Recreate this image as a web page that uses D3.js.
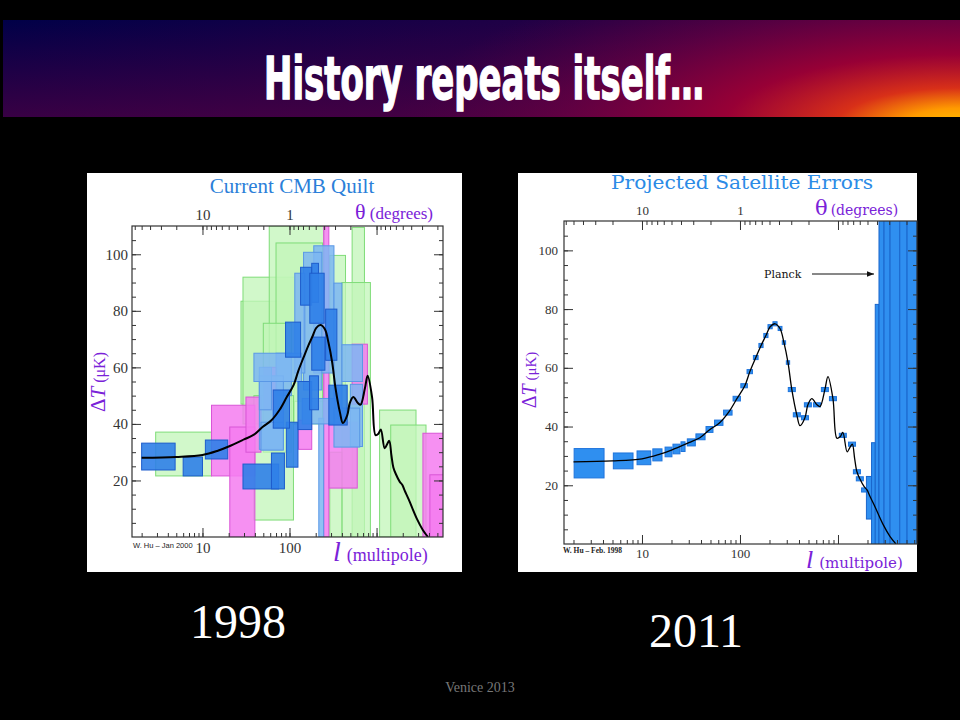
<!DOCTYPE html>
<html>
<head>
<meta charset="utf-8">
<title>History repeats itself...</title>
<style>
  body { margin: 0; background: #000; }
  svg text { font-family: "Liberation Serif", "Times New Roman", serif; }
</style>
</head>
<body>
<svg id="slide" width="960" height="720"></svg>
<script src="https://d3js.org/d3.v7.min.js"></script>
<script>
// ---- data ----
// theory curve, multipole l and Delta T (uK)
const theoryL = [2, 5, 10, 15, 20, 30, 39, 49, 62, 77, 93, 112, 126, 145, 164, 184, 203, 228, 256, 281, 309, 338, 380, 410, 460, 493, 541, 610, 655, 735, 790, 888, 975, 1050, 1120, 1240, 1330, 1400, 1480, 1560, 1670, 1850, 1980, 2100, 2340, 2900, 3400, 3900];
const theoryT = [28, 28.3, 29, 30.5, 32, 34.5, 36.2, 38.9, 41.3, 45, 49.5, 53.9, 58.7, 63.5, 67.6, 71, 74, 75, 73.4, 68.6, 61.8, 52.6, 44, 40.3, 43, 47.4, 49.5, 47.4, 46.8, 52.6, 57, 49.5, 36, 36.5, 38, 31.4, 33, 34, 29, 24.6, 22.2, 19.5, 18.4, 16.5, 13.3, 6.5, 2.5, 0];

// 1998 quilt: [l low, l high, dT low, dT high]
const quiltGreen = [
  [2.9, 12.7, 21.6, 37.1], [27.7, 105, 47, 83.4], [29.2, 114, 40, 91.9],
  [58.5, 250, 48, 110], [70, 240, 40, 104], [50, 105, 30, 75.6],
  [39, 111, 6, 50], [290, 440, 45, 99.6], [524, 726, 0, 109.5],
  [400, 850, 0, 90], [290, 400, 0, 30], [1084, 2840, 0, 44.9], [1455, 3700, 0, 39.6]
];
const quiltPink = [
  [12.7, 40, 21.6, 46.6], [20.6, 40, 0, 38.9], [31.6, 47, 30, 49.5],
  [51, 71, 45, 60], [127, 180, 31, 41.3], [283, 600, 17.3, 40.6],
  [247, 283, 0, 110], [524, 785, 47, 68.2], [3410, 6300, 0, 36.7], [4100, 6300, 0, 22]
];
const quiltLight = [
  [190, 324, 58, 103], [145, 235, 52, 100.7], [115, 150, 58, 93.3],
  [324, 400, 42, 89.8], [70, 105, 50, 65], [400, 690, 55, 68],
  [45, 85, 31, 57], [500, 690, 32, 54], [217, 247, 0, 42], [45, 62, 45, 60],
  [39, 138, 55, 65], [140, 333, 40, 49], [324, 640, 31.8, 45.6], [47, 85, 30.7, 40.6]
];
const quiltDark = [
  [2, 4.85, 23.7, 33.2], [6, 10, 21.6, 28.3], [10.8, 19.5, 27.6, 34.3],
  [29.2, 75, 17, 25.8], [62, 87.4, 17, 29.7], [92, 125, 24.7, 40.6],
  [65, 100, 38.5, 52], [90, 134, 63.6, 76], [134, 180, 82, 95.4],
  [180, 215, 83, 96.8], [171, 250, 75.6, 93.3], [260, 350, 62.5, 80.6],
  [283, 460, 39.6, 53.7], [125, 180, 38, 55], [180, 255, 59, 70.7], [170, 215, 45, 57]
];

// 2011 projected satellite errors
const satBoxes = [
  [2.03, 4.1, 22.5, 32.5], [5.1, 8.1, 25.6, 31], [8.9, 12.3, 27, 31.7],
  [12.9, 16, 28.3, 32.4], [17.2, 20.2, 29.7, 33], [20.7, 24.4, 30.7, 34],
  [25, 27.5, 31.5, 34.8], [29, 35, 33.4, 35.8], [35.5, 44, 35.5, 37.5],
  [45, 53, 38, 40], [55, 67, 40.4, 42.2], [68, 83, 43.9, 45.6],
  [85, 101, 48.7, 50.3], [102, 119, 53.2, 54.6], [118, 134, 58, 59.4],
  [137, 153, 62.8, 64.2], [156, 172, 66.9, 68.3], [175, 193, 70.3, 71.7],
  [193, 213, 73.3, 74.7], [217, 239, 74.3, 75.7], [245, 268, 72.7, 74.1],
  [270, 292, 68, 69.2], [297, 321, 61.2, 62.4], [311, 367, 51.9, 53.3],
  [350, 413, 43.3, 44.7], [424, 500, 42.3, 43.7], [454, 535, 46.7, 48.1],
  [562, 662, 46.7, 48.1], [677, 798, 51.9, 53.3], [818, 964, 48.8, 50.2],
  [1031, 1216, 36.3, 37.7], [1280, 1510, 33.3, 34.7], [1436, 1694, 23.9, 25.3],
  [1538, 1814, 21.5, 22.9], [1740, 2053, 17.7, 19.1]
];
const planckBoxes = [
  [1950, 2200, 8.5, 23], [2200, 2400, -5, 34.5], [2400, 2620, -5, 81.6],
  [2620, 2950, -5, 130], [2950, 3400, -5, 130], [3400, 4270, -5, 130],
  [4270, 5070, -5, 130], [5070, 6400, -5, 130]
];

const yTicks = [20, 40, 60, 80, 100];
const lLabels = [10, 100];
const thetaLabels = [10, 1];

const purple = "#7a22d8";
const svg = d3.select("#slide");

// ---- title bar: base hue left-to-right, darker magenta toward the bottom, orange glow bottom right ----
const defs = svg.append("defs");
function gradient(tag, id, attrs, stops) {
  const gr = defs.append(tag).attr("id", id);
  Object.entries(attrs).forEach(([k, v]) => gr.attr(k, v));
  stops.forEach(s => gr.append("stop").attr("offset", s[0]).attr("stop-color", s[1]).attr("stop-opacity", s[2] ?? 1));
}
gradient("linearGradient", "barBase", { x1: 0, y1: 0, x2: 1, y2: 0 },
  [[0, "#000048"], [0.5, "#1c0046"], [1, "#420042"]]);
gradient("linearGradient", "barShade", { x1: 0, y1: 0, x2: 0, y2: 1 },
  [[0, "#700040", 0], [1, "#700040", 0.5]]);
gradient("radialGradient", "barGlow", {
  gradientUnits: "userSpaceOnUse", cx: 960, cy: 125, r: 560,
  gradientTransform: "translate(960,125) scale(1,0.3) translate(-960,-125)"
}, [[0, "#ffc000"], [0.1, "#ff9a00"], [0.22, "#d83018"], [0.42, "#a00034", 0.9], [0.7, "#800040", 0.45], [1, "#600040", 0]]);
["barBase", "barShade", "barGlow"].forEach(id =>
  svg.append("rect").attr("x", 3).attr("y", 20).attr("width", 957).attr("height", 97).attr("fill", `url(#${id})`));
svg.append("text").attr("x", 264).attr("y", 99)
  .attr("textLength", 440).attr("lengthAdjust", "spacingAndGlyphs")
  .style("font-family", "'Liberation Sans Narrow', 'DejaVu Sans Condensed', sans-serif")
  .attr("font-weight", "bold").attr("font-size", 58).attr("fill", "#fff")
  .attr("stroke", "#fff").attr("stroke-width", 1.4)
  .text("History repeats itself…");

function txt(parent, x, y, s, o = {}) {
  const t = parent.append("text").attr("x", x).attr("y", y).text(s);
  Object.entries(o).forEach(([k, v]) => k === "font" ? t.style("font-family", v) : t.attr(k, v));
  return t;
}

function drawPanel(p) {
  const g = svg.append("g");
  g.append("rect").attr("x", p.box[0]).attr("y", p.box[1]).attr("width", p.box[2]).attr("height", p.box[3]).attr("fill", "#fff");

  const x = d3.scaleLog().domain(p.lDomain).range([p.plot.l, p.plot.r]);
  const y = d3.scaleLinear().domain([0, 110]).range([p.plot.b, p.plot.t]);
  const theta = d3.scaleLog().domain([100 / p.lDomain[0], 100 / p.lDomain[1]]).range([p.plot.l, p.plot.r]);

  defs.append("clipPath").attr("id", p.id + "-clip").append("rect")
    .attr("x", p.plot.l).attr("y", p.plot.t).attr("width", p.plot.r - p.plot.l).attr("height", p.plot.b - p.plot.t);
  const marks = g.append("g").attr("clip-path", `url(#${p.id}-clip)`);

  p.layers.forEach(layer => {
    marks.append("g").selectAll("rect").data(layer.boxes).join("rect")
      .attr("x", d => x(d[0])).attr("width", d => x(d[1]) - x(d[0]))
      .attr("y", d => y(d[3])).attr("height", d => y(d[2]) - y(d[3]))
      .attr("fill", layer.fill).attr("fill-opacity", layer.opacity)
      .attr("stroke", layer.stroke).attr("stroke-width", 1);
  });

  const line = d3.line().x(d => x(d[0])).y(d => y(d[1])).curve(d3.curveCatmullRom.alpha(0.5));
  marks.append("path").datum(d3.zip(theoryL, theoryT))
    .attr("d", line).attr("fill", "none").attr("stroke", "#000").attr("stroke-width", p.curveWidth);

  const axisStyle = sel => sel.attr("color", "#333").attr("font-size", p.tickFont)
    .style("font-family", p.font).call(s => s.select(".domain").remove());

  // bottom l axis
  g.append("g").attr("transform", `translate(0,${p.plot.b})`)
    .call(d3.axisBottom(x).tickValues(x.ticks()).tickSize(-4).tickFormat("")).call(axisStyle);
  g.append("g").attr("transform", `translate(0,${p.plot.b})`)
    .call(d3.axisBottom(x).tickValues([10, 100, 1000]).tickSize(-9).tickPadding(5)
      .tickFormat(d => lLabels.includes(d) ? d : "")).call(axisStyle);
  // top theta axis
  g.append("g").attr("transform", `translate(0,${p.plot.t})`)
    .call(d3.axisTop(theta).tickValues(theta.ticks()).tickSize(-4).tickFormat("")).call(axisStyle);
  g.append("g").attr("transform", `translate(0,${p.plot.t})`)
    .call(d3.axisTop(theta).tickValues([10, 1, 0.1]).tickSize(-9).tickPadding(6)
      .tickFormat(d => thetaLabels.includes(d) ? d : "")).call(axisStyle);
  // left and right dT axes
  const minorY = d3.range(5, 110, 5);
  g.append("g").attr("transform", `translate(${p.plot.l},0)`)
    .call(d3.axisLeft(y).tickValues(minorY).tickSize(-4).tickFormat("")).call(axisStyle);
  g.append("g").attr("transform", `translate(${p.plot.l},0)`)
    .call(d3.axisLeft(y).tickValues(yTicks).tickSize(-9).tickPadding(p.yPad)).call(axisStyle);
  g.append("g").attr("transform", `translate(${p.plot.r},0)`)
    .call(d3.axisRight(y).tickValues(minorY).tickSize(-4).tickFormat("")).call(axisStyle);
  g.append("g").attr("transform", `translate(${p.plot.r},0)`)
    .call(d3.axisRight(y).tickValues(yTicks).tickSize(-9).tickFormat("")).call(axisStyle);

  g.append("rect").attr("x", p.plot.l).attr("y", p.plot.t)
    .attr("width", p.plot.r - p.plot.l).attr("height", p.plot.b - p.plot.t)
    .attr("fill", "none").attr("stroke", "#333").attr("stroke-width", 1.2);
  return g;
}

// ---- 1998 panel ----
const left = drawPanel({
  id: "left", box: [87, 173, 375, 399],
  plot: { l: 132, t: 226, r: 443, b: 537 },
  lDomain: [1.55, 5800], font: "'Liberation Serif', serif", tickFont: 15, yPad: 4, curveWidth: 2,
  layers: [
    { boxes: quiltGreen, fill: "#c2f5b8", opacity: 0.75, stroke: "#7fdc78" },
    { boxes: quiltPink, fill: "#f47cf0", opacity: 0.85, stroke: "#d955d6" },
    { boxes: quiltLight, fill: "#7db6f2", opacity: 0.85, stroke: "#5a98e6" },
    { boxes: quiltDark, fill: "#2f80e8", opacity: 0.9, stroke: "#1d5ccc" }
  ]
});
txt(left, 292, 193, "Current CMB Quilt", { "text-anchor": "middle", "font-size": 21, fill: "#2b7fd9" });
const thL = txt(left, 355, 219, "θ", { "font-size": 22, fill: purple });
thL.append("tspan").attr("font-size", 17).text(" (degrees)");
const dTL = left.append("text").attr("transform", "translate(105,382) rotate(-90)")
  .attr("text-anchor", "middle").attr("fill", purple).attr("font-size", 21);
dTL.append("tspan").text("Δ");
dTL.append("tspan").attr("font-style", "italic").text("T");
dTL.append("tspan").attr("font-size", 16).text(" (μK)");
txt(left, 133, 548, "W. Hu – Jan 2000", { "font-size": 7.5, fill: "#222", font: "'Liberation Sans', sans-serif" });
const mL = txt(left, 333, 561, "l", { "font-size": 28, "font-style": "italic", fill: purple });
mL.append("tspan").attr("font-size", 18).attr("font-style", "normal").attr("dx", 6).text("(multipole)");

// ---- 2011 panel ----
const right = drawPanel({
  id: "right", box: [518, 173, 399, 399],
  plot: { l: 564, t: 221, r: 917, b: 544 },
  lDomain: [1.6, 6400], font: "'DejaVu Serif', serif", tickFont: 13, yPad: 6, curveWidth: 1.3,
  layers: [
    { boxes: satBoxes, fill: "#2f8ff0", opacity: 1, stroke: "#1f74dc" },
    { boxes: planckBoxes, fill: "#2f8ff0", opacity: 1, stroke: "#1a66cc" }
  ]
});
txt(right, 742, 189, "Projected Satellite Errors", {
  "text-anchor": "middle", "font-size": 19, fill: "#2b8be6", font: "'DejaVu Serif', serif",
  textLength: 262, lengthAdjust: "spacingAndGlyphs"
});
const thR = txt(right, 815, 215, "θ", { "font-size": 21, fill: purple, font: "'DejaVu Serif', serif" });
thR.append("tspan").attr("font-size", 14).attr("dx", 3).text("(degrees)");
const dTR = right.append("text").attr("transform", "translate(536,380) rotate(-90)")
  .attr("text-anchor", "middle").attr("fill", purple).attr("font-size", 20);
dTR.append("tspan").text("Δ");
dTR.append("tspan").attr("font-style", "italic").text("T");
dTR.append("tspan").attr("font-size", 15).text(" (μK)");
txt(right, 563, 553, "W. Hu – Feb. 1998", { "font-size": 7.5, "font-weight": "bold", fill: "#222" });
txt(right, 764, 278, "Planck", { "font-size": 11, fill: "#111", font: "'DejaVu Serif', serif" });
defs.append("marker").attr("id", "arrow").attr("viewBox", "0 0 10 10").attr("refX", 10).attr("refY", 5)
  .attr("markerWidth", 7).attr("markerHeight", 7).attr("orient", "auto")
  .append("path").attr("d", "M0,1L10,5L0,9z").attr("fill", "#111");
right.append("line").attr("x1", 812).attr("x2", 874).attr("y1", 274).attr("y2", 274)
  .attr("stroke", "#111").attr("stroke-width", 1).attr("marker-end", "url(#arrow)");
const mR = txt(right, 806, 568, "l", { "font-size": 26, "font-style": "italic", fill: purple });
mR.append("tspan").attr("font-size", 15).attr("font-style", "normal").attr("dx", 6)
  .style("font-family", "'DejaVu Serif', serif").text("(multipole)");

// ---- captions ----
txt(svg, 238, 638, "1998", { "text-anchor": "middle", "font-size": 48, fill: "#fff" });
txt(svg, 696, 647, "2011", { "text-anchor": "middle", "font-size": 48, fill: "#fff" });
txt(svg, 480, 692, "Venice 2013", { "text-anchor": "middle", "font-size": 14, fill: "#777" });
</script>
</body>
</html>
